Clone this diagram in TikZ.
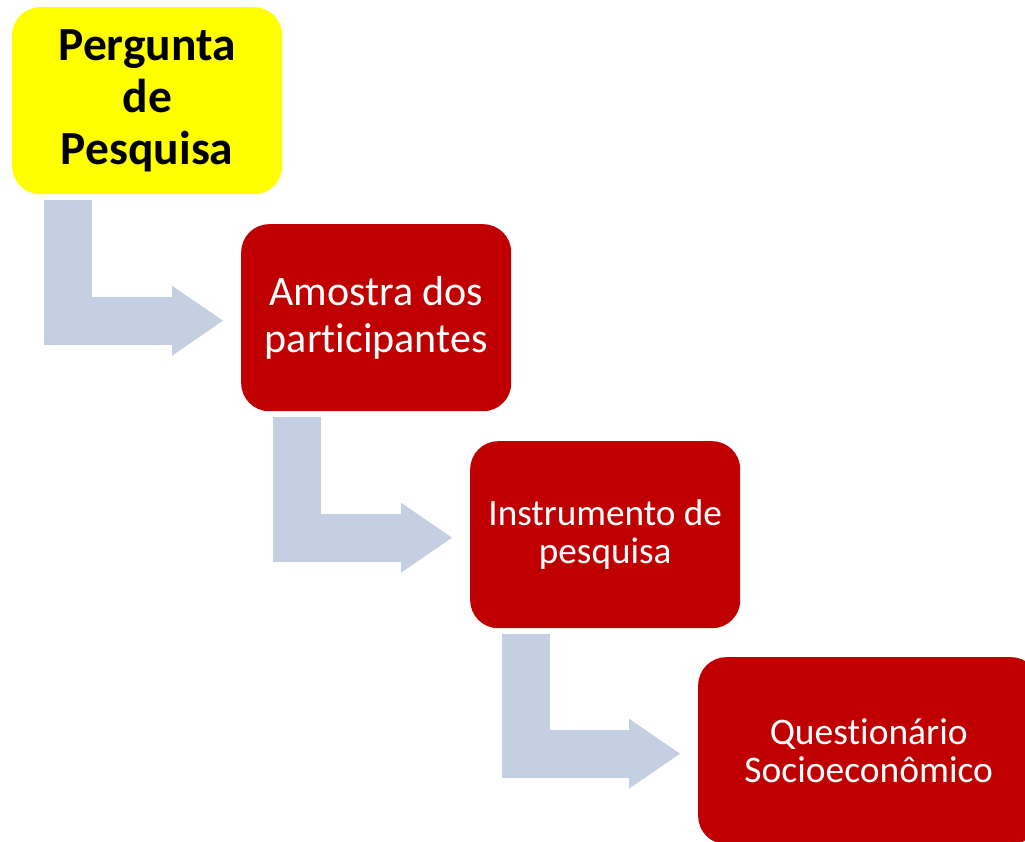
\documentclass[tikz,border=0pt]{standalone}
\usepackage{fontspec}
\setmainfont{Carlito}[RawFeature={-liga;-clig;-dlig;-calt}]
\usetikzlibrary{arrows.meta}

\newcommand*\stagewidth{270pt}
\newcommand*\stageheight{187pt}
\definecolor{stagered}{RGB}{192,0,0}
\definecolor{stageyellow}{RGB}{255,255,0}
\definecolor{flowblue}{RGB}{196,207,226}
\tikzset{
    stage/.style={
        rectangle,
        rounded corners=28pt,
        fill=stagered,
        text=white,
        anchor=north west,
        minimum width=\stagewidth,
        minimum height=\stageheight,
        inner sep=0pt,
        align=center
    },
    flow/.style={
        draw=flowblue,
        line width=48pt,
        line join=miter,
        -{Triangle[length=51pt,width=70pt,line width=0pt,fill=flowblue]}
    }
}

\begin{document}
\begin{tikzpicture}[x=1pt,y=-1pt]
    \useasboundingbox (0,0) rectangle (1025,842);

    % The four steps, each one down and to the right of the last.
    \node[stage,fill=stageyellow,text=black,font=\bfseries\fontsize{47.5}{52}\selectfont] (pergunta) at (12,7) {Pergunta\\de\\Pesquisa};
    \node[stage,font=\fontsize{42}{46.5}\selectfont] (amostra) at (241,224) {Amostra dos\\participantes};
    \node[stage,font=\fontsize{37.2}{38}\selectfont] (instrumento) at (470,441) {Instrumento de\\pesquisa};
    \node[stage,minimum width=341pt,font=\fontsize{37.5}{38}\selectfont] (questionario) at (698,657) {Questionário\\Socioeconômico};

    % Bent arrows from one step down into the next.
    \draw[flow] ([xshift=56pt,yshift=-6pt]pergunta.south west) |- ([xshift=-18pt,yshift=-3pt]amostra.west);
    \draw[flow] ([xshift=56pt,yshift=-6pt]amostra.south west) |- ([xshift=-18pt,yshift=-3pt]instrumento.west);
    \draw[flow] ([xshift=56pt,yshift=-6pt]instrumento.south west) |- ([xshift=-18pt,yshift=-3pt]questionario.west);

\end{tikzpicture}
\end{document}
